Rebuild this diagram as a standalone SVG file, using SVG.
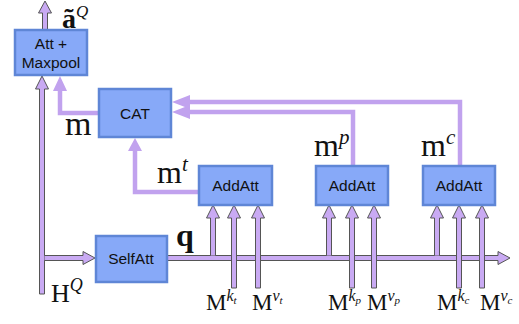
<svg xmlns="http://www.w3.org/2000/svg" width="519" height="324" viewBox="0 0 519 324">
<style>
.box{fill:#87a9f8;stroke:#5f86d6;stroke-width:2.5}
.bt{font-family:"Liberation Sans",Arial,sans-serif;font-size:15.5px;fill:#111;text-anchor:middle}
.oa{fill:#c9aaf3;stroke:#555;stroke-width:1;stroke-linejoin:miter}
.sl{fill:none;stroke:#c1a2ee;stroke-width:4.5}
.sh{fill:#c1a2ee}
.mt{font-family:"Liberation Serif","Times New Roman",serif;fill:#111}
.it{font-style:italic}
</style>
<rect width="519" height="324" fill="#fff"/>
<g id="connectors">
  <path class="oa" d="M42.5,30 L42.5,13 L38.5,13 L45,1 L51.5,13 L47.5,13 L47.5,30"/>
  <path class="oa" d="M39.5,294 L39.5,89 L35.5,89 L42,76 L48.5,89 L44.5,89 L44.5,294 Z"/>
  <path class="oa" d="M44.5,255.5 L83,255.5 L83,251.5 L95,258 L83,264.5 L83,260.5 L44.5,260.5"/>
  <path class="oa" d="M167,255.5 L498,255.5 L498,251.5 L510,258 L498,264.5 L498,260.5 L167,260.5"/>
  <path class="oa" d="M210.5,255.5 L210.5,218 L206.5,218 L213,205 L219.5,218 L215.5,218 L215.5,255.5"/>
  <path class="oa" d="M326.5,255.5 L326.5,218 L322.5,218 L329,205 L335.5,218 L331.5,218 L331.5,255.5"/>
  <path class="oa" d="M434.5,255.5 L434.5,218 L430.5,218 L437,205 L443.5,218 L439.5,218 L439.5,255.5"/>
  <path class="oa" d="M231.5,288 L231.5,218 L227.5,218 L234,205 L240.5,218 L236.5,218 L236.5,288 Z"/>
  <path class="oa" d="M255.5,288 L255.5,218 L251.5,218 L258,205 L264.5,218 L260.5,218 L260.5,288 Z"/>
  <path class="oa" d="M349.5,288 L349.5,218 L345.5,218 L352,205 L358.5,218 L354.5,218 L354.5,288 Z"/>
  <path class="oa" d="M371.5,288 L371.5,218 L367.5,218 L374,205 L380.5,218 L376.5,218 L376.5,288 Z"/>
  <path class="oa" d="M456.5,288 L456.5,218 L452.5,218 L459,205 L465.5,218 L461.5,218 L461.5,288 Z"/>
  <path class="oa" d="M479.5,288 L479.5,218 L475.5,218 L482,205 L488.5,218 L484.5,218 L484.5,288 Z"/>
  <path class="sl" d="M99,113 L60,113 L60,90"/>
  <polygon class="sh" points="53,91 60,76 67,91"/>
  <path class="sl" d="M199,192 L135,192 L135,150"/>
  <polygon class="sh" points="128,151 135,138 142,151"/>
  <path class="sl" d="M353,166 L353,112 L188,112"/>
  <polygon class="sh" points="190,105 172,112 190,119"/>
  <path class="sl" d="M460,166 L460,102 L188,102"/>
  <polygon class="sh" points="190,95 172,102 190,109"/>
</g>
<g id="attmax">
  <rect class="box" x="15" y="30" width="72" height="45"/>
  <text class="bt" x="51" y="49">Att +</text>
  <text class="bt" x="51" y="68">Maxpool</text>
</g>
<g id="cat">
  <rect class="box" x="99" y="89" width="72" height="48"/>
  <text class="bt" x="135" y="119">CAT</text>
</g>
<g id="selfatt">
  <rect class="box" x="96" y="236" width="71" height="46"/>
  <text class="bt" x="131" y="264">SelfAtt</text>
</g>
<g id="addatt1">
  <rect class="box" x="199" y="166" width="73" height="39"/>
  <text class="bt" x="235.5" y="191">AddAtt</text>
</g>
<g id="addatt2">
  <rect class="box" x="316" y="166" width="72" height="39"/>
  <text class="bt" x="352" y="191">AddAtt</text>
</g>
<g id="addatt3">
  <rect class="box" x="423" y="166" width="72" height="39"/>
  <text class="bt" x="459" y="191">AddAtt</text>
</g>
<g id="labels">
  <text class="mt" x="62" y="28" font-size="28" font-weight="bold">ã<tspan class="it" font-size="17" font-weight="normal" dy="-11">Q</tspan></text>
  <text class="mt" x="65" y="135" font-size="34">m</text>
  <text class="mt" x="157" y="183" font-size="32">m<tspan class="it" font-size="21" dy="-12">t</tspan></text>
  <text class="mt" x="314" y="156" font-size="32">m<tspan class="it" font-size="21" dy="-12">p</tspan></text>
  <text class="mt" x="421" y="156" font-size="32">m<tspan class="it" font-size="21" dy="-12">c</tspan></text>
  <text class="mt" x="176" y="246" font-size="32" font-weight="bold">q</text>
  <text class="mt" x="51" y="302" font-size="26">H<tspan class="it" font-size="18" dy="-11">Q</tspan></text>
  <text class="mt" x="206" y="310" font-size="23">M<tspan class="it" font-size="16" dy="-9">k</tspan><tspan class="it" font-size="11" dy="3">t</tspan></text>
  <text class="mt" x="252" y="310" font-size="23">M<tspan class="it" font-size="16" dy="-9">v</tspan><tspan class="it" font-size="11" dy="3">t</tspan></text>
  <text class="mt" x="328" y="310" font-size="23">M<tspan class="it" font-size="16" dy="-9">k</tspan><tspan class="it" font-size="11" dy="3">p</tspan></text>
  <text class="mt" x="367" y="310" font-size="23">M<tspan class="it" font-size="16" dy="-9">v</tspan><tspan class="it" font-size="11" dy="3">p</tspan></text>
  <text class="mt" x="437" y="310" font-size="23">M<tspan class="it" font-size="16" dy="-9">k</tspan><tspan class="it" font-size="11" dy="3">c</tspan></text>
  <text class="mt" x="480" y="310" font-size="23">M<tspan class="it" font-size="16" dy="-9">v</tspan><tspan class="it" font-size="11" dy="3">c</tspan></text>
</g>
</svg>
